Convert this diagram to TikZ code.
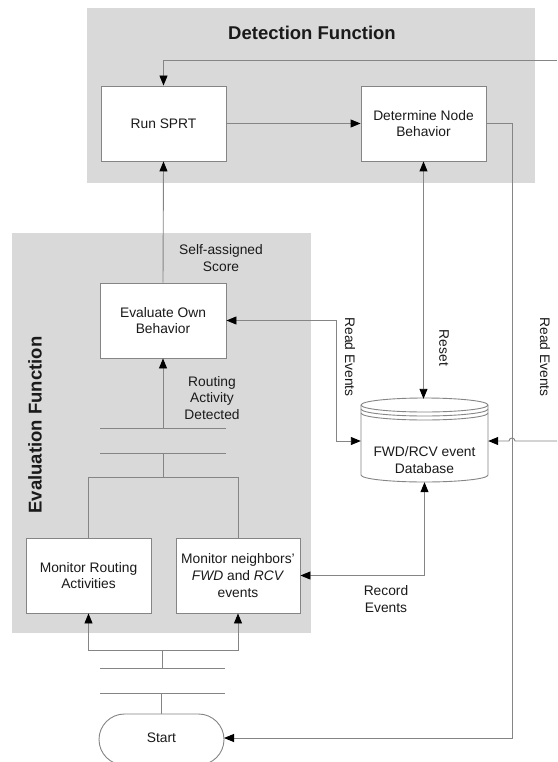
\documentclass[tikz,border=0pt]{standalone}
\usepackage{fontspec}
\setmainfont{Liberation Sans}
\usetikzlibrary{arrows.meta,shapes.misc}
\definecolor{panel}{HTML}{D9D9D9}
\definecolor{ln}{HTML}{858585}
\definecolor{txt}{HTML}{1A1A1A}
\tikzset{
  lbl/.style={text=txt, font=\fontsize{13.8}{16.7}\selectfont, align=center, inner sep=0pt},
  ttl/.style={text=txt, font=\bfseries\fontsize{18.5}{22}\selectfont, inner sep=0pt},
  box/.style={lbl, draw=ln, fill=white, line width=0.9pt, minimum width=125pt, minimum height=75pt},
  conn/.style={draw=ln, line width=0.9pt},
  tip/.style={-{Triangle[length=10pt,width=8pt,color=black]}},
  tips/.style={{Triangle[length=10pt,width=8pt,color=black]}-{Triangle[length=10pt,width=8pt,color=black]}},
  barline/.style={draw=ln, line width=0.9pt}
}
\begin{document}
\begin{tikzpicture}[x=1pt,y=-1pt]
\useasboundingbox (0,0) rectangle (557,762);
\fill[white] (0,0) rectangle (557,762);
% panels
\fill[panel] (87,8) rectangle (535,183);
\fill[panel] (12,233) rectangle (311,633);
\node[ttl] (dettitle) at (312,33) {Detection Function};
\node[ttl, rotate=90] (evaltitle) at (35,425) {Evaluation Function};
% boxes
\node[box] (sprt) at (163.5,123.5) {Run SPRT};
\node[box] (det) at (423.5,123.5) {Determine Node\\Behavior};
\node[box, minimum width=126pt] (eval) at (163,320.5) {Evaluate Own\\Behavior};
\node[box] (mra) at (88.5,575.5) {Monitor Routing\\Activities};
\node[box, minimum width=124pt] (mfr) at (238,575.5) {Monitor neighbors'\\\textit{FWD} and \textit{RCV}\\events};
\node[lbl, draw=ln, fill=white, line width=0.9pt, rounded rectangle, minimum width=125pt, minimum height=51pt] (start) at (161.5,739.5) {};
\node[lbl] (starttext) at (161.5,738) {Start};
% database
\filldraw[fill=white, draw=ln, line width=0.9pt] (361,405) -- (361,475)
  arc[start angle=180,end angle=360,x radius=63.5pt,y radius=7pt] -- (488,405)
  arc[start angle=0,end angle=180,x radius=63.5pt,y radius=7pt] -- cycle;
\draw[conn] (361,405) arc[start angle=180,end angle=360,x radius=63.5pt,y radius=7pt];
\draw[conn] (361,409) arc[start angle=180,end angle=360,x radius=63.5pt,y radius=7pt];
\draw[conn] (361,413) arc[start angle=180,end angle=360,x radius=63.5pt,y radius=7pt];
\node[minimum width=127pt, minimum height=83pt, inner sep=0pt] (db) at (424.5,440.5) {};
\node[lbl] (dbtext) at (424.5,460) {FWD/RCV event\\Database};
% bars
\draw[barline] (100,428) -- (226,428);
\draw[barline] (100,453) -- (226,453);
\draw[barline] (100,668) -- (225,668);
\draw[barline] (100,693) -- (225,693);
\coordinate (j1) at (163,428);
\coordinate (j2) at (163,453);
\coordinate (fork) at (163,477);
\coordinate (f2) at (162,650);
\coordinate (j3) at (162,668);
\coordinate (j4) at (161.5,693);
\coordinate (fb) at (557,60);
\coordinate (rv) at (512,123.5);
\coordinate (rl) at (336,441);
\coordinate (rr) at (557,441);
\coordinate (sin) at (224,738);
% connectors
\draw[conn, tip] (fb) -| (sprt.north);
\draw[conn, tip] (sprt.east) -- (det.west);
\draw[conn, tip] (det.east) -- (rv) |- (sin);
\draw[conn, tips] (det.south) -- (det.south |- db.north);
\draw[conn, tip] (eval.north) -- (sprt.south);
\draw[conn, tips] (eval.east) -| (rl) -- (rl -| db.west);
\draw[conn, tip] (rr) -- (515,441) arc[start angle=0,end angle=180,radius=3pt] -- (rr -| db.east);
\draw[conn, tips] (mfr.east) -| (db.south);
\draw[conn, tip] (j1) -- (eval.south);
\draw[conn] (j2) -- (fork);
\draw[conn] (fork) -| (mra.north);
\draw[conn] (fork) -| (mfr.north);
\draw[conn] (j3) -- (f2);
\draw[conn, tip] (f2) -| (mra.south);
\draw[conn, tip] (f2) -| (mfr.south);
\draw[conn] (j4) -- (start.north);
% labels
\node[lbl] (lscore) at (221,258) {Self-assigned\\Score};
\node[lbl] (lrout) at (212,398) {Routing\\Activity\\Detected};
\node[lbl, rotate=-90] (lreset) at (444,348) {Reset};
\node[lbl, rotate=-90] (lread1) at (350,357) {Read Events};
\node[lbl, rotate=-90] (lread2) at (545,357) {Read Events};
\node[lbl] (lrec) at (386,599) {Record\\Events};
\end{tikzpicture}
\end{document}
